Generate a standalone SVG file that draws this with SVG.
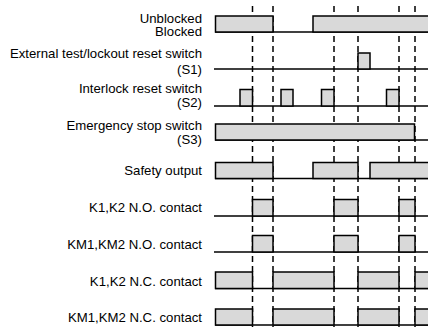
<svg xmlns="http://www.w3.org/2000/svg" width="428" height="327" viewBox="0 0 428 327">
<style>
text{font-family:"Liberation Sans",Arial,sans-serif;font-size:13.2px;fill:#000;text-anchor:end}
.b{fill:#d9d9d9;stroke:#000;stroke-width:1.5}
.l{fill:none;stroke:#000;stroke-width:1.5}
.d{fill:none;stroke:#000;stroke-width:1.5;stroke-dasharray:6 4}
</style>
<rect width="428" height="327" fill="#fff"/>
<g id="guides">
<line class="d" x1="252.5" y1="6" x2="252.5" y2="327"/>
<line class="d" x1="273" y1="6" x2="273" y2="327"/>
<line class="d" x1="334" y1="6" x2="334" y2="327"/>
<line class="d" x1="358" y1="6" x2="358" y2="327"/>
<line class="d" x1="399" y1="6" x2="399" y2="327"/>
<line class="d" x1="415" y1="6" x2="415" y2="327"/>
</g>
<g id="row-block">
<text x="202" y="22.5">Unblocked</text>
<text x="202" y="36">Blocked</text>
<line class="l" x1="215" y1="32" x2="428" y2="32"/>
<rect class="b" x="215.5" y="16" width="57.5" height="16"/>
<rect class="b" x="313" y="16" width="120" height="16"/>
</g>
<g id="row-s1">
<text x="202" y="57.5">External test/lockout reset switch</text>
<text x="202" y="74">(S1)</text>
<line class="l" x1="214" y1="69" x2="428" y2="69"/>
<rect class="b" x="358" y="53" width="12" height="16"/>
</g>
<g id="row-s2">
<text x="202" y="92.5">Interlock reset switch</text>
<text x="202" y="106.5">(S2)</text>
<line class="l" x1="214" y1="106" x2="428" y2="106"/>
<rect class="b" x="240" y="89.5" width="12.5" height="16.5"/>
<rect class="b" x="281" y="89.5" width="12" height="16.5"/>
<rect class="b" x="321.5" y="89.5" width="12.5" height="16.5"/>
<rect class="b" x="386.5" y="89.5" width="12.5" height="16.5"/>
</g>
<g id="row-s3">
<text x="202" y="130">Emergency stop switch</text>
<text x="202" y="144">(S3)</text>
<line class="l" x1="215" y1="140" x2="428" y2="140"/>
<rect class="b" x="215.5" y="124" width="199" height="16"/>
</g>
<g id="row-safety">
<text x="202" y="174.5">Safety output</text>
<line class="l" x1="215" y1="178.5" x2="428" y2="178.5"/>
<rect class="b" x="215.5" y="162.5" width="57.5" height="16"/>
<rect class="b" x="313" y="162.5" width="45" height="16"/>
<rect class="b" x="370" y="162.5" width="63" height="16"/>
</g>
<g id="row-k-no">
<text x="202" y="212">K1,K2 N.O. contact</text>
<line class="l" x1="214" y1="216" x2="428" y2="216"/>
<rect class="b" x="252.5" y="199.5" width="20.5" height="16.5"/>
<rect class="b" x="334" y="199.5" width="24" height="16.5"/>
<rect class="b" x="399" y="199.5" width="16" height="16.5"/>
</g>
<g id="row-km-no">
<text x="202" y="248.5">KM1,KM2 N.O. contact</text>
<line class="l" x1="214" y1="252" x2="428" y2="252"/>
<rect class="b" x="252.5" y="235.5" width="20.5" height="16.5"/>
<rect class="b" x="334" y="235.5" width="24" height="16.5"/>
<rect class="b" x="399" y="235.5" width="16" height="16.5"/>
</g>
<g id="row-k-nc">
<text x="202" y="285.5">K1,K2 N.C. contact</text>
<line class="l" x1="215" y1="288.5" x2="428" y2="288.5"/>
<rect class="b" x="215.5" y="272" width="37" height="16.5"/>
<rect class="b" x="273" y="272" width="61" height="16.5"/>
<rect class="b" x="358" y="272" width="41" height="16.5"/>
<rect class="b" x="415" y="272" width="18" height="16.5"/>
</g>
<g id="row-km-nc">
<text x="202" y="322">KM1,KM2 N.C. contact</text>
<line class="l" x1="215" y1="325" x2="428" y2="325"/>
<rect class="b" x="215.5" y="309" width="37" height="16"/>
<rect class="b" x="273" y="309" width="61" height="16"/>
<rect class="b" x="358" y="309" width="41" height="16"/>
<rect class="b" x="415" y="309" width="18" height="16"/>
</g>
</svg>
